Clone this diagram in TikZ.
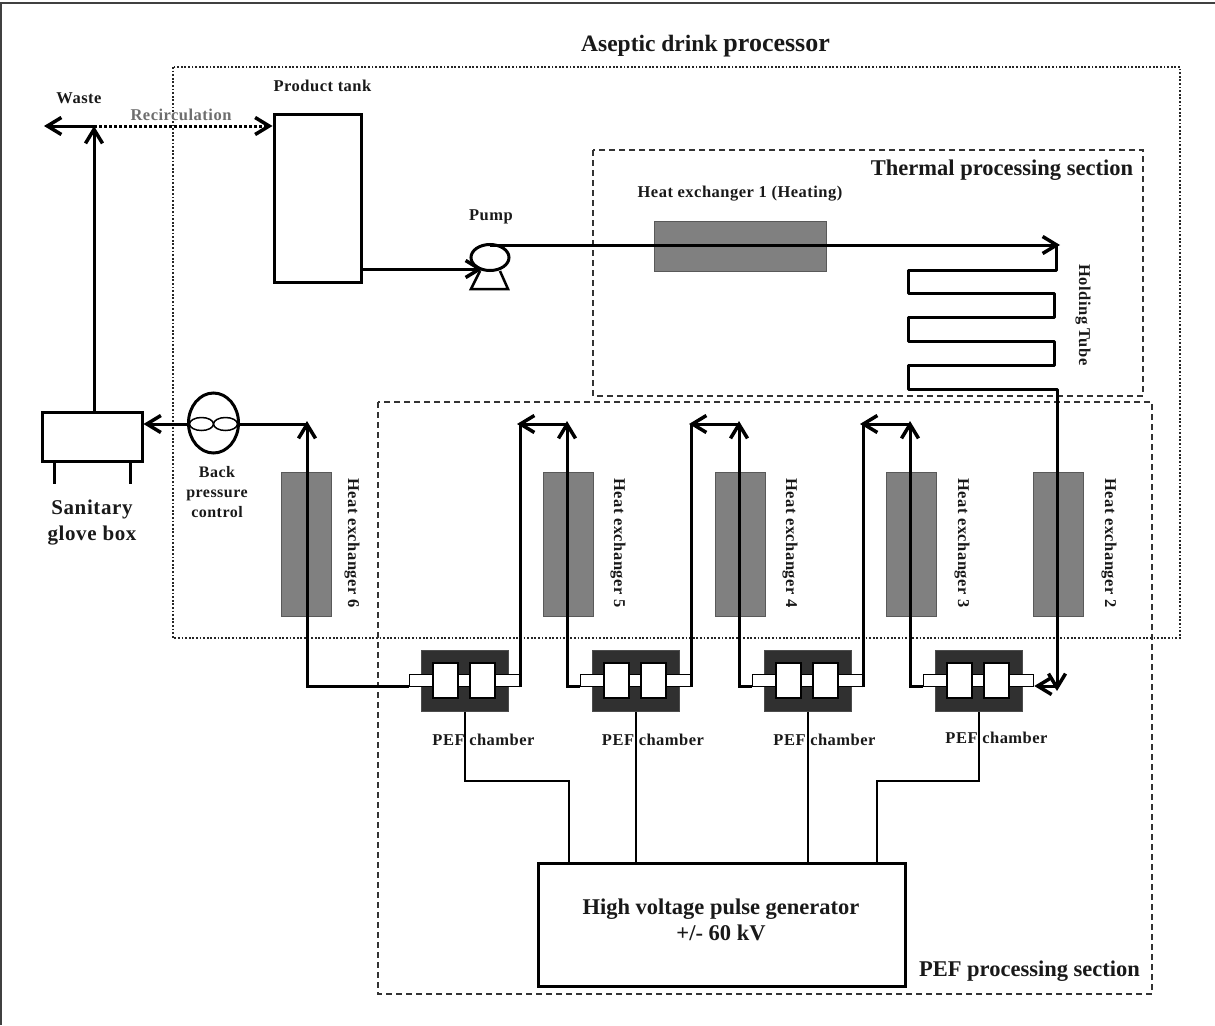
\documentclass[tikz,border=0pt]{standalone}
\usepackage{fontspec}
\setmainfont[LetterSpace=3,Ligatures=NoCommon]{Liberation Serif}
\newfontfamily\plainserif{Liberation Serif}
\usetikzlibrary{arrows.meta,shapes.geometric}
\definecolor{hxgrey}{HTML}{808080}
\definecolor{chdark}{HTML}{303030}
\definecolor{recgrey}{HTML}{6E6E6E}
\tikzset{
  x=1pt,y=-1pt,
  pipe/.style={line width=3pt,line join=miter},
  wire/.style={line width=2pt},
  barb/.style={-{Straight Barb[length=14pt,width=17pt,line width=3.5pt]}},
  lbl/.style={inner sep=0pt,font=\bfseries\fontsize{16.5}{18}\selectfont,text=black!90},
  biglbl/.style={inner sep=0pt,font=\plainserif\bfseries\fontsize{22.5}{26}\selectfont,text=black!90,align=center},
  vlbl/.style={lbl,rotate=-90},
  hxbox/.style={draw=black!65,line width=1pt,fill=hxgrey,inner sep=0pt,minimum width=50pt,minimum height=144pt},
  dashregion/.style={draw=black!80,line width=1.6pt,dash pattern=on 6pt off 4pt},
  dotregion/.style={draw=black!85,line width=1.8pt,dash pattern=on 1.8pt off 1.8pt},
  plate/.style={draw=black!70,line width=1pt,fill=chdark,inner sep=0pt,minimum width=87pt,minimum height=61pt},
  tubeb/.style={draw=black,line width=1.5pt,fill=white,inner sep=0pt,minimum width=110pt,minimum height=12pt},
  windowb/.style={draw=black,line width=1.5pt,fill=white,inner sep=0pt,minimum width=25pt,minimum height=35pt},
  vessel/.style={draw=black,line width=3pt,fill=white,inner sep=0pt},
}
\begin{document}
\begin{tikzpicture}
\useasboundingbox (0,0) rectangle (1215,1025);
\draw[black!75,line width=2pt] (1,1025) -- (1,3) -- (1215,3);

% regions
\draw[dotregion] (173,67) rectangle (1180,638);
\draw[dashregion] (593,150) rectangle (1143,396);
\draw[dashregion] (378,402) rectangle (1152,994);

% heat exchangers
\node[hxbox,minimum width=172pt,minimum height=50pt] (hx1) at (740,246) {};
\node[hxbox] (hx6) at (306,544) {};
\node[hxbox] (hx5) at (568,544) {};
\node[hxbox] (hx4) at (740,544) {};
\node[hxbox] (hx3) at (911,544) {};
\node[hxbox] (hx2) at (1058,544) {};

% vessels
\node[vessel,minimum width=87pt,minimum height=168pt] (tank) at (317.5,198) {};
\node[vessel,minimum width=100pt,minimum height=49pt] (glove) at (92,436.5) {};
\node[vessel,minimum width=367pt,minimum height=123pt] (hv) at (721.5,924.5) {};
\node[inner sep=0pt,align=center,font=\plainserif\bfseries\fontsize{22.5}{26}\selectfont,text=black!90] (hvt) at (721,920) {High voltage pulse generator\\+/- 60 kV};

% chambers
\foreach \n/\cx in {1/464.5,2/635.5,3/807.5,4/978.5}{
  \node[plate] (ch\n) at (\cx,680.5) {};
  \node[tubeb] (tb\n) at (\cx,680.5) {};
  \node[windowb] (wa\n) at (\cx-19,680.5) {};
  \node[windowb] (wb\n) at (\cx+18,680.5) {};
}

% named free points
\coordinate (junction) at (94,126);
\coordinate (wasteend) at (44,126);
\coordinate (loopA) at (1056,245);
\coordinate (tubeend) at (1060,245);

% pump
\node[draw=black,line width=3pt,fill=white,ellipse,inner sep=0pt,minimum width=38pt,minimum height=26pt] (pumpb) at (490,257.5) {};
\draw[line width=2.5pt] (480,271) -- (471,289) -- (508,289) -- (500,271);

% back pressure control
\node[draw=black,line width=3pt,fill=white,ellipse,inner sep=0pt,minimum width=50pt,minimum height=60pt] (bpc) at (213.5,423) {};
\node[draw=black,line width=1.5pt,ellipse,inner sep=0pt,minimum width=24pt,minimum height=13pt] (bpa) at (201.5,424) {};
\node[draw=black,line width=1.5pt,ellipse,inner sep=0pt,minimum width=24pt,minimum height=13pt] (bpb) at (225.5,424) {};

% outlet piping
\draw[pipe,barb] (glove.north -| junction) -- (junction);
\draw[pipe,barb] (junction) -- (wasteend);
\draw[pipe,dotted,barb] (junction) -- (tank.west |- junction);
\draw[line width=3pt] (54,461) -- (54,484) (130,461) -- (130,484);

% tank to pump
\draw[pipe,barb] (tank.east |- 0,269) -- (483,269);
% pump to holding tube
\draw[pipe,barb] (490,245) -- (tubeend);
% holding tube serpentine
\draw[pipe,line join=round] (loopA) -- (1056,270) -- (908,270) -- (908,293) -- (1054,293) -- (1054,317) -- (908,317) -- (908,341) -- (1054,341) -- (1054,365) -- (908,365) -- (908,389) -- (1057,389) -- (1057,680);
\draw[pipe,barb] (1057,676) -- (1057,691);
\draw[pipe,barb] (1057,686) -- (tb4.east |- 0,686);

% chamber links
\draw[pipe,barb] (tb4.west |- 0,686) -| (910,421);
\draw[pipe,barb] (910,424) -- (860,424);
\draw[pipe,line width=2.5pt] (tb3.south east) -- (tb3.south east |- 0,424);
\draw[pipe,barb] (tb3.west |- 0,686) -| (739,421);
\draw[pipe,barb] (739,424) -- (689,424);
\draw[pipe,line width=2.5pt] (tb2.south east) -- (tb2.south east |- 0,424);
\draw[pipe,barb] (tb2.west |- 0,686) -| (567,421);
\draw[pipe,barb] (567,424) -- (517,424);
\draw[pipe,line width=2.5pt] (tb1.south east) -- (tb1.south east |- 0,424);
\draw[pipe,barb] (tb1.west |- 0,686) -| (307,421);
\draw[pipe] (307,424) -- (bpc.east |- 0,424);
\draw[pipe,barb] (bpc.west |- 0,424) -- (glove.east |- 0,424);

% electric wires
\draw[wire] (ch1.south) -- (464.5,781) -- (569,781) -- (569,863);
\draw[wire] (ch2.south) -- (635.5,863);
\draw[wire] (ch3.south) -- (807.5,863);
\draw[wire] (ch4.south) -- (978.5,781) -- (877,781) -- (877,863);

% labels
\node[inner sep=0pt,font=\plainserif\bfseries\fontsize{23.5}{26}\selectfont,text=black!90] (tasep) at (705.5,46.5) {Aseptic drink {\fontsize{26}{26}\selectfont processor}};
\node[biglbl] (tther) at (1002,170) {Thermal processing section};
\node[biglbl] (tpef) at (1029.5,971) {PEF processing section};
\node[lbl] (twaste) at (79,98) {Waste};
\node[lbl,text=recgrey] (trec) at (181,114.5) {Recirculation};
\node[lbl] (ttank) at (322.5,85.5) {Product tank};
\node[lbl] (tpump) at (491,217) {Pump};
\node[lbl] (thx1) at (740,194) {Heat exchanger 1 (Heating)};
\node[vlbl] (thold) at (1083,315) {Holding Tube};
\node[biglbl,font=\bfseries\fontsize{21}{26}\selectfont] (tglove) at (92,522.5) {Sanitary\\glove box};
\node[lbl,align=center,font=\bfseries\fontsize{16}{20}\selectfont] (tback) at (217,492.5) {Back\\pressure\\control};
\node[vlbl] (thx6) at (352,543) {Heat exchanger 6};
\node[vlbl] (thx5) at (618,543) {Heat exchanger 5};
\node[vlbl] (thx4) at (790,543) {Heat exchanger 4};
\node[vlbl] (thx3) at (962,543) {Heat exchanger 3};
\node[vlbl] (thx2) at (1109,543) {Heat exchanger 2};
\node[lbl] (tc1) at (483.5,740) {PEF chamber};
\node[lbl] (tc2) at (653,740) {PEF chamber};
\node[lbl] (tc3) at (824.5,740) {PEF chamber};
\node[lbl] (tc4) at (996.5,738) {PEF chamber};
\end{tikzpicture}
\end{document}
